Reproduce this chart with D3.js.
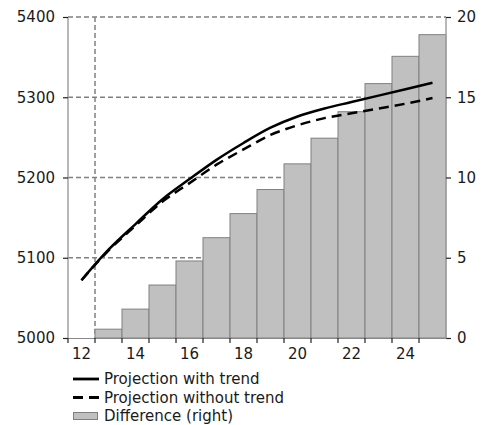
<!DOCTYPE html>
<html>
<head>
<meta charset="utf-8">
<script src="https://cdn.jsdelivr.net/npm/d3@7"></script>
<style>
  body { margin: 0; background: #fff; }
  text { font-family: "DejaVu Sans", Verdana, sans-serif; fill: #1a1a1a; }
</style>
</head>
<body>
<div id="chart"></div>
<script>
var categories = [12, 13, 14, 15, 16, 17, 18, 19, 20, 21, 22, 23, 24, 25];
var withTrend = [5072, 5110, 5142, 5173, 5198, 5222, 5243, 5262, 5276, 5286, 5294, 5302, 5310, 5318];
var withoutTrend = [5072, 5109, 5140, 5170, 5193, 5216, 5235, 5253, 5265, 5274, 5280, 5286, 5292, 5299];
var difference = [0, 0.55, 1.8, 3.3, 4.8, 6.25, 7.75, 9.25, 10.85, 12.45, 14.1, 15.85, 17.55, 18.9];
var leftTicks = [5000, 5100, 5200, 5300, 5400];
var rightTicks = [0, 5, 10, 15, 20];
var xLabels = [12, 14, 16, 18, 20, 22, 24];

var margin = {top: 17, right: 40, bottom: 87, left: 68},
    width = 486 - margin.left - margin.right,
    height = 425 - margin.top - margin.bottom;

var svg = d3.select("#chart")
  .append("svg")
  .attr("width", width + margin.left + margin.right)
  .attr("height", height + margin.top + margin.bottom)
  .append("g")
  .attr("transform", "translate(" + margin.left + "," + margin.top + ")");

var x = d3.scaleBand()
    .domain(categories)
    .range([0, width])
    .padding(0);

var yL = d3.scaleLinear().domain([5000, 5400]).range([height, 0]);
var yR = d3.scaleLinear().domain([0, 20]).range([height, 0]);

// horizontal grid
svg.append("g")
  .selectAll("line")
  .data(leftTicks.slice(1))
  .enter()
  .append("line")
  .attr("x1", 0)
  .attr("x2", width)
  .attr("y1", function(d) { return yL(d); })
  .attr("y2", function(d) { return yL(d); })
  .attr("stroke", "#808080")
  .attr("stroke-width", 1.5)
  .attr("stroke-dasharray", "5,3");

// vertical dashed line between 12 and 13
svg.append("line")
  .attr("x1", x(13))
  .attr("x2", x(13))
  .attr("y1", 0)
  .attr("y2", height)
  .attr("stroke", "#808080")
  .attr("stroke-width", 1.5)
  .attr("stroke-dasharray", "5,3");

// bars
svg.append("g")
  .selectAll("rect")
  .data(categories)
  .enter()
  .append("rect")
  .attr("x", function(d) { return x(d); })
  .attr("width", x.bandwidth())
  .attr("y", function(d, i) { return yR(difference[i]); })
  .attr("height", function(d, i) { return height - yR(difference[i]); })
  .attr("fill", "#c0c0c0")
  .attr("stroke", "#808080")
  .attr("stroke-width", 1);

// axes
var axisColor = "#a0a0a0";
var left = svg.append("g").call(d3.axisLeft(yL).tickValues(leftTicks).tickFormat(d3.format("d")).tickSize(5).tickPadding(8));
var right = svg.append("g").attr("transform", "translate(" + width + ",0)")
  .call(d3.axisRight(yR).tickValues(rightTicks).tickSize(5).tickPadding(6));
var bottom = svg.append("g").attr("transform", "translate(0," + height + ")")
  .call(d3.axisBottom(x).tickValues([]).tickSizeOuter(0));

[left, right].forEach(function(a) {
  a.select(".domain").attr("stroke", axisColor).attr("stroke-width", 1.5)
    .attr("d", "M0,0V" + height);
  a.selectAll(".tick line").attr("stroke", "#222").attr("stroke-width", 1.2);
  a.selectAll("text").style("font-size", "15px").attr("fill", "#1a1a1a");
});
bottom.select(".domain").attr("stroke", "#888").attr("stroke-width", 1);

// x ticks at band boundaries
svg.append("g")
  .selectAll("line")
  .data(categories)
  .enter()
  .append("line")
  .attr("x1", function(d) { return x(d); })
  .attr("x2", function(d) { return x(d); })
  .attr("y1", height)
  .attr("y2", height + 5)
  .attr("stroke", "#222")
  .attr("stroke-width", 1.2);

svg.append("g")
  .selectAll("text")
  .data(xLabels)
  .enter()
  .append("text")
  .attr("x", function(d) { return x(d) + x.bandwidth() / 2; })
  .attr("y", height + 21)
  .attr("text-anchor", "middle")
  .style("font-size", "15px")
  .text(function(d) { return d; });

// lines
var line = function(vals) {
  return d3.line()
    .x(function(d, i) { return x(categories[i]) + x.bandwidth() / 2; })
    .y(function(d) { return yL(d); })
    .curve(d3.curveMonotoneX)(vals);
};

svg.append("path")
  .attr("d", line(withoutTrend))
  .attr("fill", "none")
  .attr("stroke", "#000")
  .attr("stroke-width", 2.5)
  .attr("stroke-dasharray", "10,6");

svg.append("path")
  .attr("d", line(withTrend))
  .attr("fill", "none")
  .attr("stroke", "#000")
  .attr("stroke-width", 2.5);

// legend
var legend = svg.append("g").attr("transform", "translate(5," + (height + 41) + ")");
var items = ["Projection with trend", "Projection without trend", "Difference (right)"];
items.forEach(function(name, i) {
  var g = legend.append("g").attr("transform", "translate(0," + (i * 18.5) + ")");
  if (i < 2) {
    g.append("line")
      .attr("x1", 0).attr("x2", 26).attr("y1", 0).attr("y2", 0)
      .attr("stroke", "#000").attr("stroke-width", 2.8)
      .attr("stroke-dasharray", i == 1 ? "10,6" : null);
  } else {
    g.append("rect")
      .attr("x", 0.5).attr("y", -3.5).attr("width", 24).attr("height", 7)
      .attr("fill", "#c0c0c0").attr("stroke", "#808080");
  }
  g.append("text")
    .attr("x", 31)
    .attr("y", 5)
    .style("font-size", "15px")
    .text(name);
});
</script>
</body>
</html>
